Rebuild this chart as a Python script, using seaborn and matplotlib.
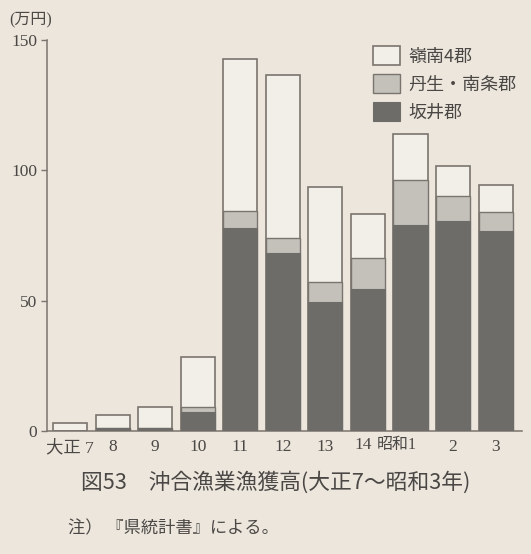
import matplotlib
matplotlib.use("Agg")
import matplotlib.pyplot as plt
import matplotlib.transforms as mtransforms
from matplotlib.patches import Patch
import seaborn as sns
import pandas as pd
import numpy as np

# ---- data (万円) ----
years = ["大正 7", "8", "9", "10", "11", "12", "13", "14", "昭和1", "2", "3"]
sakai = [0.0, 1.0, 1.0, 7.3, 78.0, 68.4, 49.6, 54.6, 79.2, 80.4, 76.9]      # 坂井郡
nyu_nanjo = [0.0, 0.0, 0.0, 1.9, 6.5, 5.8, 7.7, 11.6, 17.0, 9.6, 7.3]      # 丹生・南条郡
reinan = [3.1, 5.1, 8.2, 19.2, 58.1, 62.3, 36.2, 16.9, 17.6, 11.5, 10.0]   # 嶺南4郡
series_names = ["嶺南4郡", "丹生・南条郡", "坂井郡"]
yticks = [0, 50, 100, 150]

BG = "#ECE6DD"
C_WHITE = "#F2EEE8"
C_GRAY = "#C4C1BA"
C_DARK = "#6E6C69"
EDGE = "#7A746E"
TXT = "#4a4744"

sns.set_style("ticks")
plt.rcParams["font.family"] = ["Liberation Serif", "Noto Sans CJK JP"]

df = pd.DataFrame({"year": years, "sakai": sakai, "nyu": nyu_nanjo, "reinan": reinan})
df["lvl1"] = df["sakai"]
df["lvl2"] = df["sakai"] + df["nyu"]
df["lvl3"] = df["lvl2"] + df["reinan"]

fig = plt.figure(figsize=(5.31, 5.54), dpi=100, facecolor=BG)
ax = fig.add_axes([47 / 531, 123 / 554, (522 - 47) / 531, (514 - 123) / 554])
ax.set_facecolor(BG)

sns.barplot(data=df, x="year", y="lvl3", order=years, color=C_WHITE, width=0.8,
            edgecolor=EDGE, linewidth=1.2, saturation=1, ax=ax, zorder=2)
sns.barplot(data=df, x="year", y="lvl2", order=years, color=C_GRAY, width=0.8,
            edgecolor=EDGE, linewidth=1.0, saturation=1, ax=ax, zorder=3)
sns.barplot(data=df, x="year", y="lvl1", order=years, color=C_DARK, width=0.8,
            edgecolor=C_DARK, linewidth=0.8, saturation=1, ax=ax, zorder=4)

ax.set_xlim(-0.54, 10.62)
ax.set_ylim(0, 150)
ax.set_yticks(yticks)
ax.set_yticklabels([str(v) for v in yticks])
ax.set_xlabel("")
ax.set_ylabel("")
ax.tick_params(axis="y", direction="out", length=4, width=1, color=EDGE,
               labelsize=12.5, labelcolor=TXT, pad=3)
ax.tick_params(axis="x", length=0, labelsize=12.5, labelcolor=TXT, pad=6)
for side in ["top", "right"]:
    ax.spines[side].set_visible(False)
for side in ["left", "bottom"]:
    ax.spines[side].set_color(EDGE)
    ax.spines[side].set_linewidth(1.1)

# the 14 and 昭和 labels sit slightly left of their bars in the original
ax.set_xticks(range(len(years)))
tick_texts = [y if i not in (7, 8) else "" for i, y in enumerate(years)]
ax.set_xticklabels(tick_texts)
trans = mtransforms.blended_transform_factory(ax.transData, ax.transAxes)
ax.text(6.9, -14 / 391, years[7], transform=trans, ha="center", va="center",
        fontsize=12.5, color=TXT, family=["Liberation Serif", "Noto Sans CJK JP"])
ax.text(8.14, -14 / 391, years[8], transform=trans, ha="right", va="center",
        fontsize=11.5, color=TXT, family=["Liberation Serif", "Noto Sans CJK JP"])

handles = [Patch(facecolor=C_WHITE, edgecolor=EDGE, linewidth=1.2),
           Patch(facecolor=C_GRAY, edgecolor=EDGE, linewidth=1.0),
           Patch(facecolor=C_DARK, edgecolor=C_DARK, linewidth=0.8)]
leg = ax.legend(handles, series_names, loc="upper left",
                bbox_to_anchor=(373 / 531, 1 - 46 / 554), bbox_transform=fig.transFigure,
                frameon=False, handlelength=1.5, handleheight=1.25,
                handletextpad=0.45, labelspacing=0.47, borderpad=0, borderaxespad=0,
                prop={"family": ["Noto Sans CJK JP"], "size": 13})
for t in leg.get_texts():
    t.set_color(TXT)

fig.text(31 / 531, 1 - 19 / 554, "(万円)", ha="center", va="center", fontsize=11.5,
         color=TXT, family=["Liberation Serif", "Noto Sans CJK JP"])
fig.text(276 / 531, 1 - 483 / 554, "図53　沖合漁業漁獲高(大正7〜昭和3年)", ha="center",
         va="center", fontsize=15.7, color=TXT, family=["Noto Sans CJK JP"])
fig.text(68 / 531, 1 - 528 / 554, "注） 『県統計書』による。", ha="left", va="center",
         fontsize=12.4, color=TXT, family=["Noto Sans CJK JP"])

fig.savefig("out.png", dpi=100, facecolor=BG)
